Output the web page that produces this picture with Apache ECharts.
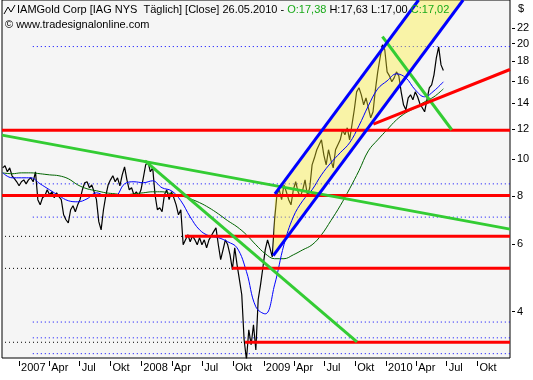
<!DOCTYPE html>
<html><head><meta charset="utf-8">
<script src="https://cdn.jsdelivr.net/npm/echarts@6/dist/echarts.min.js"></script>
<style>html,body{margin:0;padding:0;background:#fff}#c{width:533px;height:380px}</style>
</head><body><div id="c"></div><script>
const FONT = 'Liberation Sans';
const DAY = 86400000;
function d(s){const p=s.split('-').map(Number);return Date.UTC(p[0],p[1]-1,p[2]);}

// weekly closing prices, first week 2006-11-13
const weekStart = '2006-11-13';
const closes = [
9.49,9.61,9.27,9.49,9.05,8.89,8.73,8.52,8.73,8.83,8.62,8.83,8.94,8.73,9.27,7.84,7.60,7.93,8.03,8.32,
8.07,8.22,7.93,8.17,7.98,7.84,7.16,6.95,6.82,7.38,7.56,7.29,7.60,7.84,8.32,8.68,8.73,8.42,8.57,8.22,
7.84,6.87,6.54,7.38,8.03,8.57,8.83,9.05,8.73,8.94,8.52,9.10,9.55,8.83,8.32,8.42,8.07,8.22,8.03,8.32,
8.94,9.66,9.84,9.27,9.49,8.07,7.38,7.47,7.29,8.07,8.32,7.84,8.22,7.93,7.60,7.16,7.38,5.98,6.16,6.35,
6.09,6.31,6.16,5.98,6.24,5.98,6.16,5.87,6.16,6.31,6.47,6.62,5.98,5.47,5.80,6.16,5.98,5.63,5.15,5.87,
5.30,4.85,4.43,3.38,3.00,3.59,3.28,3.70,3.18,4.30,4.70,5.21,5.80,6.16,5.87,5.56,6.95,8.07,8.32,7.84,
8.57,8.22,7.84,7.60,8.32,8.73,8.22,7.98,8.32,8.83,8.03,8.42,9.66,10.08,10.58,10.90,11.23,10.26,9.66,10.58,
9.96,9.49,10.58,10.90,11.23,11.93,11.57,12.07,11.23,12.29,13.45,14.98,15.35,14.71,13.86,14.45,13.61,12.82,13.29,15.16,
16.89,18.37,19.86,19.28,16.89,16.49,15.91,16.29,16.89,16.49,14.98,13.86,13.45,14.45,14.71,14.28,14.98,14.54,13.94,13.61,
13.29,14.28,15.35,15.62,16.59,18.37,19.63,17.61,17.02];

// moving averages, one value every 4 weeks from weekStart
const maBlue = [9.21,8.94,8.94,8.94,8.62,8.32,8.03,7.79,7.74,7.88,8.17,8.03,8.03,8.62,8.73,8.68,8.78,8.42,8.27,7.79,
7.07,6.54,6.31,6.24,6.09,5.87,5.09,4.12,3.95,4.70,5.98,7.07,7.79,8.32,9.10,9.78,10.39,11.03,12.22,13.77,
15.25,16.00,16.69,16.29,15.16,14.54,15.07,15.91];
const maGreen = [9.21,9.16,9.21,9.21,9.16,9.10,9.05,8.89,8.57,8.37,8.27,8.17,8.12,8.07,8.12,8.17,8.22,8.22,8.12,8.03,
7.88,7.70,7.47,7.20,6.91,6.66,6.35,5.98,5.67,5.50,5.50,5.63,5.80,5.98,6.35,6.91,7.56,8.37,9.33,10.51,
11.23,11.93,12.66,13.21,13.61,14.11,14.54,15.25];

// horizontal levels
const redLevels = [11.89, 8.04, 6.29, 5.19, 3.33];
const redStarts = ['2006-11-11','2006-11-11','2008-05-10','2008-09-28','2008-11-06'];
const blueDotLevels = [19.66, 8.62, 7.06, 3.76, 3.42, 3.11];
const blueDotStart = '2007-02-11';
const blackDotLevels = [6.29, 5.19, 3.33];
const blackDotStart = '2006-11-20';

// trend lines
const greenLineA = [['2006-11-11', 11.55], ['2011-01-06', 6.57]];
const greenLineB = [['2008-01-12', 9.90], ['2009-10-06', 3.34]];
const greenLineC = [['2009-12-21', 20.88], ['2010-07-16', 11.93]];
const redTrend = [['2009-11-24', 12.34], ['2011-01-06', 17.13]];
const channelUpper = [['2009-02-03', 8.12], ['2010-04-08', 26.0]];
const channelLower = [['2009-01-29', 5.60], ['2010-08-19', 26.0]];

// axes
const xMin = '2006-11-11', xMax = '2011-01-06';
const xTickDates = ['2007-01-01','2007-04-01','2007-07-01','2007-10-01','2008-01-01','2008-04-01','2008-07-01','2008-10-01',
 '2009-01-01','2009-04-01','2009-07-01','2009-10-01','2010-01-01','2010-04-01','2010-07-01','2010-10-01'];
const xTickLabels = ['2007','Apr','Jul','Okt','2008','Apr','Jul','Okt','2009','Apr','Jul','Okt','2010','Apr','Jul','Okt'];
const yTicks = [4,6,8,10,12,14,16,18,20,22];
const yMin = 3.03, yMax = 26.0;

const t0 = d(weekStart);
const priceData = closes.map((v,i)=>[t0 + i*7*DAY, v]);
const maBlueData = maBlue.map((v,k)=>[t0 + k*28*DAY, v]);
const maGreenData = maGreen.map((v,k)=>[t0 + k*28*DAY, v]);
const xTickTs = xTickDates.map(d);
const toPts = arr => arr.map(p=>[d(p[0]), p[1]]);

function seg(data, color, width, type, z){
  return {type:'line', data:data, showSymbol:false, symbol:'none', silent:true, z:z,
    lineStyle:{color:color, width:width, type:type||'solid', cap:'butt'}, animation:false, clip:true};
}
const series = [];
blueDotLevels.forEach(v=>series.push(seg([[d(blueDotStart),v],[d(xMax),v]], '#0000ff', 1, [1,3], 1)));
blackDotLevels.forEach(v=>series.push(seg([[d(blackDotStart),v],[d(xMax),v]], '#000000', 1, [1,3], 1)));
series.push(seg(priceData, '#000000', 1.2, 'solid', 2));
const fillPoly = [channelUpper[0], channelUpper[1], channelLower[1], channelLower[0]].map(p=>[d(p[0]),p[1]]);
series.push({type:'custom', z:3, silent:true, clip:true, animation:false,
  data:[fillPoly[0]],
  renderItem:(params, api)=>({type:'polygon', shape:{points: fillPoly.map(p=>api.coord(p))},
    style:{fill:'rgba(255,240,40,0.38)'}})});
series.push(Object.assign(seg(maGreenData, '#006400', 1, 'solid', 4), {smooth:0.4}));
series.push(Object.assign(seg(maBlueData, '#0000ff', 1, 'solid', 4), {smooth:0.4}));
redLevels.forEach((v,i)=>series.push(seg([[d(redStarts[i]),v],[d(xMax),v]], '#ff0000', 3, 'solid', 5)));
[greenLineA, greenLineB, greenLineC].forEach(l=>series.push(seg(toPts(l), '#33cc33', 3, 'solid', 5)));
series.push(seg(toPts(redTrend), '#ff0000', 3, 'solid', 5));
series.push(seg(toPts(channelUpper), '#0000ff', 3, 'solid', 6));
series.push(seg(toPts(channelLower), '#0000ff', 3, 'solid', 6));

const chart = echarts.init(document.getElementById('c'), null, {renderer:'canvas'});
chart.setOption({
  animation:false,
  textStyle:{fontFamily:FONT},
  grid:{left:2, right:23, top:0, bottom:22, show:true, backgroundColor:'#f5f5f5', borderColor:'#000', borderWidth:1},
  xAxis:{type:'value', min:d(xMin), max:d(xMax), offset:3, scale:true,
    axisLine:{show:false}, splitLine:{show:false},
    axisTick:{show:true, length:5, lineStyle:{color:'#000'}, customValues:xTickTs},
    axisLabel:{customValues:xTickTs, align:'left', margin:1, padding:[0,0,0,2], color:'#000', fontSize:11, fontFamily:FONT,
      formatter:(v)=>{const i=xTickTs.indexOf(v); return i>=0? xTickLabels[i] : '';}}},
  yAxis:{type:'log', logBase:10, min:yMin, max:yMax, position:'right', offset:2,
    axisLine:{show:false}, splitLine:{show:false},
    axisTick:{show:true, length:3, lineStyle:{color:'#000'}, customValues:yTicks},
    axisLabel:{customValues:yTicks, margin:5, color:'#000', fontSize:11, fontFamily:FONT, formatter:v=>String(Math.round(v))}},
  graphic:[
    {type:'polyline', z:100, shape:{points:[[4,14],[8,7],[11,12],[15,5]]}, style:{stroke:'#000', lineWidth:1, fill:null}},
    {type:'text', z:100, x:17, y:10, style:{text:'{k|IAMGold Corp [IAG NYS  Täglich] [Close] 26.05.2010 - }{g|O:17,38}{k| H:17,63 L:17,00 }{g|C:17,02}',
      verticalAlign:'middle',
      rich:{k:{fill:'#000', fontSize:11, fontFamily:FONT}, g:{fill:'#1aaa1a', fontSize:11, fontFamily:FONT}}}},
    {type:'text', z:100, x:5, y:24.5, style:{text:'© www.tradesignalonline.com', fill:'#000', fontSize:11, fontFamily:FONT, verticalAlign:'middle'}},
    {type:'text', z:100, x:518, y:9, style:{text:'$', fill:'#000', fontSize:11, fontFamily:FONT, verticalAlign:'middle'}}
  ],
  series:series
});
</script></body></html>
